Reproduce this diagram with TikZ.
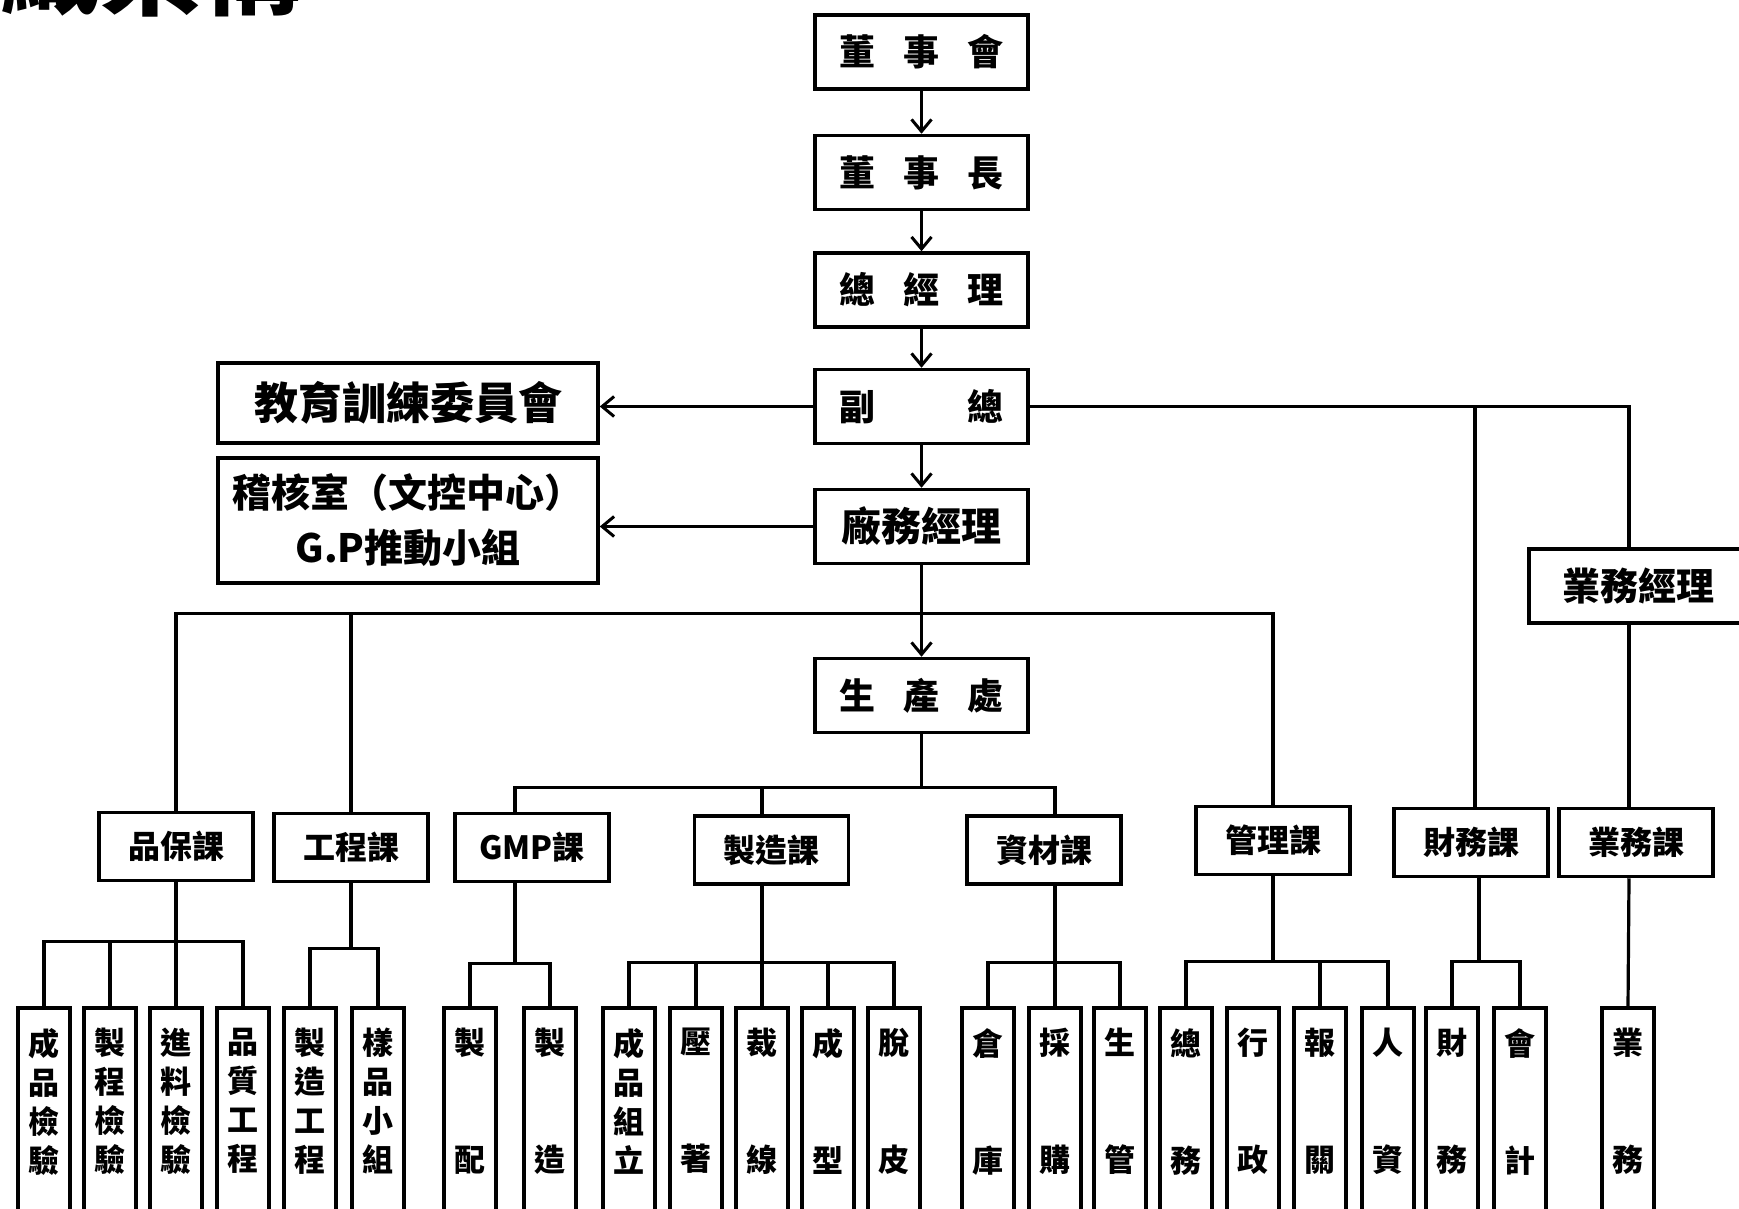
\documentclass[tikz,border=0pt]{standalone}
\usepackage{fontspec}
\setmainfont{Noto Sans CJK TC}
\usetikzlibrary{arrows.meta}

\tikzset{
	box/.style={draw,line width=3.5pt,inner sep=0pt,font=\bfseries\fontsize{36}{40}\selectfont},
	top/.style={box,minimum width=213pt,minimum height=74pt},
	sec/.style={box,minimum width=154pt,minimum height=68pt,font=\bfseries\fontsize{32}{36}\selectfont},
	leaf/.style={draw,line width=3.5pt,minimum width=52pt,minimum height=220pt,anchor=north},
	leaftxt/.style={anchor=north,yshift=-22pt,inner sep=0pt,align=center,font=\bfseries\fontsize{31}{39}\selectfont},
	arr/.style={line width=3.2pt,-{Straight Barb[length=12pt,width=20pt,line width=3pt]}},
	conn/.style={line width=3.2pt},
}
\newcommand{\wgap}{\hspace{28pt}}
\newcommand{\twoch}[2]{#1\\[78pt]#2}

\begin{document}
\begin{tikzpicture}[x=1pt,y=-1pt]
\useasboundingbox (0,0) rectangle (1739,1209);
% title, cut off at the top
\node[inner sep=0pt,anchor=base west,font=\bfseries\fontsize{100}{100}\selectfont] (title) at (-100,8) {組織架構};

% main chain
\node[top] (dsh) at (921.5,52) {董\wgap 事\wgap 會};
\node[top] (dsz) at (921.5,172.5) {董\wgap 事\wgap 長};
\node[top] (zjl) at (921.5,290) {總\wgap 經\wgap 理};
\node[top] (fz) at (921.5,406.5) {副\hspace{92pt}總};
\node[top,font=\bfseries\fontsize{40}{44}\selectfont] (cwjl) at (921.5,526.5) {廠務經理};
\node[top] (scc) at (921.5,695.5) {生\wgap 產\wgap 處};

\node[box,minimum width=380pt,minimum height=80pt,font=\bfseries\fontsize{44}{48}\selectfont] (jyxl) at (408,403) {教育訓練委員會};
\node[box,minimum width=380pt,minimum height=125pt,align=center,font=\bfseries\fontsize{39}{55}\selectfont] (jhs) at (408,520.5) {稽核室（文控中心）\\G.P推動小組};
\node[box,minimum width=218pt,minimum height=74pt,font=\bfseries\fontsize{38}{42}\selectfont] (ywjl) at (1638,586) {業務經理};

\draw[arr] (dsh) -- (dsz);
\draw[arr] (dsz) -- (zjl);
\draw[arr] (zjl) -- (fz);
\draw[arr] (fz) -- (cwjl);
\draw[arr] (cwjl) -- (scc);
\draw[arr] (fz.west) -- (fz.west -| jyxl.east);
\draw[arr] (cwjl.west) -- (cwjl.west -| jhs.east);

% sections
\node[sec] (pbk) at (176,846.5) {品保課};
\node[sec] (gck) at (351,847.5) {工程課};
\node[sec] (gmpk) at (532,847.5) {GMP課};
\node[sec] (zzk) at (771.5,850) {製造課};
\node[sec] (zck) at (1044,850) {資材課};
\node[sec] (glk) at (1273,840.5) {管理課};
\node[sec] (cwk) at (1471,842.5) {財務課};
\node[sec] (ywk) at (1636,842.5) {業務課};

\path (cwjl.south) ++(0,48.5) coordinate (mbus);
\draw[conn] (pbk.north) |- (mbus) -| (glk.north);
\draw[conn] (mbus) -| (gck.north);
\path (scc.south) ++(0,53.5) coordinate (sbus);
\draw[conn] (scc.south) -- (sbus);
\draw[conn] ([xshift=-17pt]gmpk.north) |- (sbus) -| ([xshift=11pt]zck.north);
\draw[conn] ([xshift=-9.5pt]zzk.north) |- (sbus);
\draw[conn] (fz.east) -| ([xshift=-9pt]ywjl.north);
\draw[conn] (fz.east) -| ([xshift=4pt]cwk.north);
\draw[conn] ([xshift=-9pt]ywjl.south) -- ([xshift=-7pt]ywk.north);

% leaves
\foreach \x/\txt [count=\i] in {44/成\\品\\檢\\驗,110/製\\程\\檢\\驗,176/進\\料\\檢\\驗,243/品\\質\\工\\程}
	\node[leaf,label={[leaftxt]north:\txt}] (pb\i) at (\x,1006) {};
\foreach \x/\txt [count=\i] in {310/製\\造\\工\\程,378/樣\\品\\小\\組}
	\node[leaf,label={[leaftxt]north:\txt}] (gc\i) at (\x,1006) {};
\foreach \x/\txt [count=\i] in {470/\twoch{製}{配},550/\twoch{製}{造}}
	\node[leaf,label={[leaftxt]north:\txt}] (gmp\i) at (\x,1006) {};
\foreach \x/\txt [count=\i] in {629/成\\品\\組\\立,696/\twoch{壓}{著},762/\twoch{裁}{線},828/\twoch{成}{型},894/\twoch{脫}{皮}}
	\node[leaf,label={[leaftxt]north:\txt}] (zz\i) at (\x,1006) {};
\foreach \x/\txt [count=\i] in {988/\twoch{倉}{庫},1055/\twoch{採}{購},1120/\twoch{生}{管}}
	\node[leaf,label={[leaftxt]north:\txt}] (zc\i) at (\x,1006) {};
\foreach \x/\txt [count=\i] in {1186/\twoch{總}{務},1253/\twoch{行}{政},1320/\twoch{報}{關},1388/\twoch{人}{資}}
	\node[leaf,label={[leaftxt]north:\txt}] (gl\i) at (\x,1006) {};
\foreach \x/\txt [count=\i] in {1452/\twoch{財}{務},1520/\twoch{會}{計}}
	\node[leaf,label={[leaftxt]north:\txt}] (cw\i) at (\x,1006) {};
\node[leaf,label={[leaftxt]north:\twoch{業}{務}}] (yw1) at (1628,1006) {};

\draw[conn] (pbk.south) -- ++(0,59) coordinate (pbb);
\foreach \i in {1,...,4} \draw[conn] (pbb) -| (pb\i.north);
\draw[conn] (gck.south) -- ++(0,65) coordinate (gcb);
\foreach \i in {1,2} \draw[conn] (gcb) -| (gc\i.north);
\draw[conn] ([xshift=-17pt]gmpk.south) -- ++(0,80) coordinate (gmpb);
\foreach \i in {1,2} \draw[conn] (gmpb) -| (gmp\i.north);
\draw[conn] ([xshift=-9.5pt]zzk.south) -- ++(0,77) coordinate (zzb);
\foreach \i in {1,...,5} \draw[conn] (zzb) -| (zz\i.north);
\draw[conn] ([xshift=11pt]zck.south) -- ++(0,77) coordinate (zcb);
\foreach \i in {1,2,3} \draw[conn] (zcb) -| (zc\i.north);
\draw[conn] (glk.south) -- ++(0,85) coordinate (glb);
\foreach \i in {1,3,4} \draw[conn] (glb) -| (gl\i.north);
\draw[conn] ([xshift=8pt]cwk.south) -- ++(0,83) coordinate (cwb);
\foreach \i in {1,2} \draw[conn] (cwb) -| (cw\i.north);
\draw[conn] ([xshift=-7pt]ywk.south) -- (yw1.north);
\end{tikzpicture}
\end{document}
